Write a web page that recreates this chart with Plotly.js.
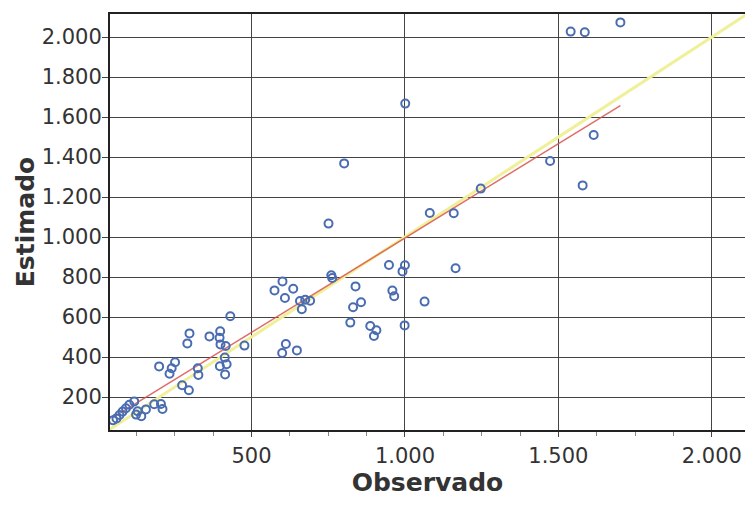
<!DOCTYPE html>
<html>
<head>
<meta charset="utf-8">
<script src="https://cdn.plot.ly/plotly-3.0.1.min.js"></script>
<style>html,body{margin:0;padding:0;background:#fff;}#chart{width:745px;height:509px;}</style>
</head>
<body>
<div id="chart"></div>
<script>
const observado = [1540, 1586, 1702, 1001, 1615, 1473, 802, 1579, 1247, 1081, 1159, 751,
  948, 1000, 992, 1165, 959, 965, 760, 763, 575, 601, 609, 636, 658, 675, 691, 664,
  839, 1064, 831, 857, 822, 887, 907, 899, 999, 612, 600, 648,
  431, 298, 291, 363, 398, 396, 399, 416, 477, 199, 251, 240, 233, 325, 327, 413, 397, 419, 414, 274, 296,
  118, 102, 91, 80, 70, 60, 49, 129, 141, 156, 183, 205, 210, 124];
const estimado = [2027, 2024, 2073, 1667, 1510, 1380, 1368, 1258, 1242, 1120, 1119, 1067,
  860, 859, 828, 844, 732, 704, 809, 795, 733, 778, 695, 741, 680, 686, 681, 639,
  753, 677, 649, 674, 572, 555, 534, 505, 558, 465, 420, 433,
  604, 518, 468, 503, 529, 496, 463, 455, 457, 353, 374, 344, 316, 344, 310, 397, 354, 364, 313, 259, 234,
  178, 161, 144, 127, 110, 93, 84, 129, 104, 138, 164, 165, 140, 112];
// Fitted line (red) end points and identity reference line (yellow)
const fitX = [49, 1702];
const fitY = [98, 1657];
const refX = [0, 2200];
const refY = [0, 2200];
const xTicks = [500, 1000, 1500, 2000];

const traces = [
  {x: refX, y: refY, type: 'scatter', mode: 'lines', line: {color: '#f0f09a', width: 3}, hoverinfo: 'skip', showlegend: false},
  {x: fitX, y: fitY, type: 'scatter', mode: 'lines', line: {color: '#d9534f', width: 1.5}, opacity: 0.85, hoverinfo: 'skip', showlegend: false},
  {x: observado, y: estimado, type: 'scatter', mode: 'markers',
   marker: {symbol: 'circle-open', size: 8, color: '#4a6cb0', line: {width: 2, color: '#4a6cb0'}}, showlegend: false}
];

const tickFont = {family: 'DejaVu Sans', size: 21, color: '#333'};
const titleFont = {family: 'DejaVu Sans', size: 25, color: '#333', weight: 'bold'};

const layout = {
  width: 745, height: 509,
  margin: {l: 110, r: 0, t: 14, b: 79},
  paper_bgcolor: '#ffffff', plot_bgcolor: '#ffffff',
  separators: ',.',
  showlegend: false,
  xaxis: {
    range: [39, 2108], tickvals: xTicks, tickformat: ',d',
    showgrid: true, gridcolor: '#444', gridwidth: 1,
    showline: true, linecolor: '#222', linewidth: 2, mirror: true,
    ticks: 'outside', ticklen: 5, tickcolor: '#444',
    ticklabelstandoff: 1, ticklabeloverflow: 'allow',
    minor: {dtick: 125, tick0: 0, ticks: 'outside', ticklen: 4, tickcolor: '#888', showgrid: false},
    zeroline: false, tickfont: tickFont,
    title: {text: 'Observado', font: titleFont, standoff: 4}
  },
  yaxis: {
    range: [35, 2115], tick0: 0, dtick: 200, tickformat: ',d',
    showgrid: true, gridcolor: '#444', gridwidth: 1,
    showline: true, linecolor: '#222', linewidth: 2, mirror: false,
    ticks: 'outside', ticklen: 6, tickcolor: '#444',
    ticklabelstandoff: -4,
    zeroline: false, tickfont: tickFont,
    title: {text: 'Estimado', font: titleFont, standoff: -1}
  }
};

Plotly.newPlot('chart', traces, layout, {staticPlot: true, displayModeBar: false});
</script>
</body>
</html>
